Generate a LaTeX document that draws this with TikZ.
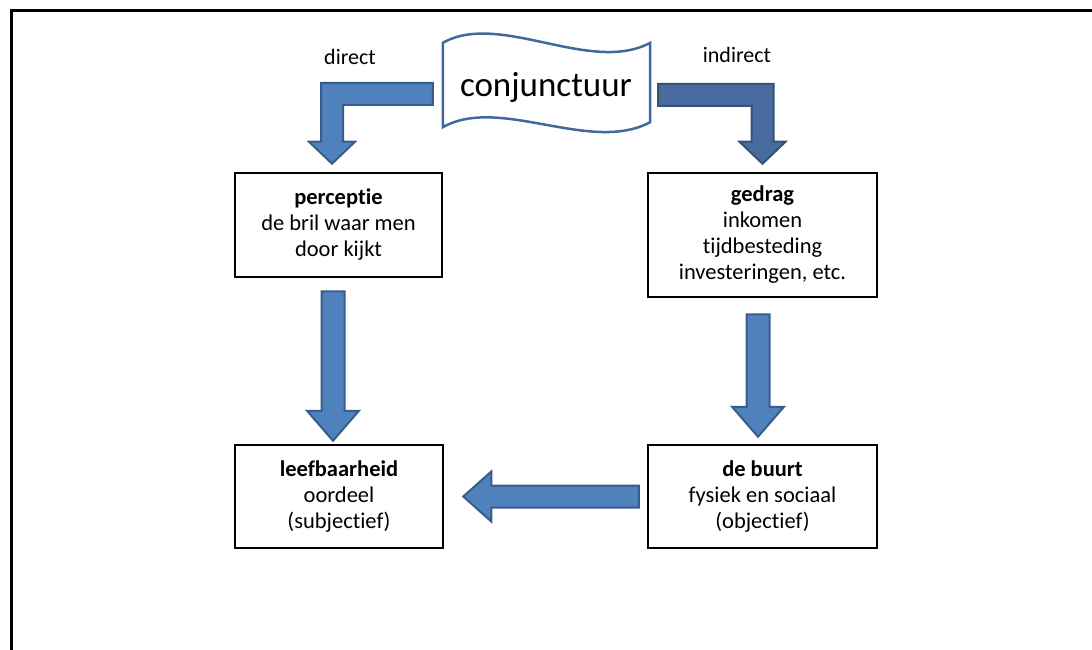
\documentclass[tikz,border=0pt]{standalone}
\usepackage{fontspec}
\setmainfont{Carlito}[Ligatures=NoCommon]
\usetikzlibrary{calc}

\definecolor{pijlblauw}{RGB}{79,129,189}
\definecolor{pijlrand}{RGB}{56,93,138}
\definecolor{pijldonker}{RGB}{72,108,157}
\definecolor{pijldonkerrand}{RGB}{52,82,122}
\definecolor{bannerrand}{RGB}{65,105,155}

% block arrow pointing down, from #2 to tip #3
\newcommand{\pijlomlaag}[3][]{%
  \filldraw[pijl,#1] ($(#2)+(-11.5,0)$) -- ($(#2)+(11.5,0)$) -- ($(#2 |- #3)+(11.5,-30)$)
    -- ($(#2 |- #3)+(26,-30)$) -- (#2 |- #3) -- ($(#2 |- #3)+(-26,-30)$)
    -- ($(#2 |- #3)+(-11.5,-30)$) -- cycle;}
% block arrow pointing left, from #2 to tip #3
\newcommand{\pijllinks}[3][]{%
  \filldraw[pijl,#1] ($(#2)+(0,-11)$) -- ($(#3 |- #2)+(28,-11)$) -- ($(#3 |- #2)+(28,-25)$)
    -- (#3 |- #2) -- ($(#3 |- #2)+(28,25)$) -- ($(#3 |- #2)+(28,11)$)
    -- ($(#2)+(0,11)$) -- cycle;}
% bent block arrow, bar from #2, down to tip #3, #4 = 1 (to the left) or -1 (to the right)
\newcommand{\bochtpijl}[4][]{%
  \filldraw[pijl,#1] ($(#2)+(0,-11)$) -- ($(#3 |- #2)+({-11*#4},-11)$) -- ($(#3)+({-11*#4},-22)$)
    -- ($(#3)+({-23*#4},-22)$) -- (#3) -- ($(#3)+({23*#4},-22)$) -- ($(#3)+({11*#4},-22)$)
    -- ($(#3 |- #2)+({11*#4},11)$) -- ($(#2)+(0,11)$) -- cycle;}

\begin{document}
\begin{tikzpicture}[x=1pt,y=-1pt,
  box/.style={draw, line width=2.5pt, align=center, inner sep=0pt,
              font=\fontsize{22.5}{26}\selectfont},
  lbl/.style={font=\fontsize{22}{26}\selectfont},
  pijl/.style={fill=pijlblauw, draw=pijlrand, line width=2pt},
  donker/.style={fill=pijldonker, draw=pijldonkerrand},
  banner/.style={draw=bannerrand, line width=2.5pt, fill=white}
]
\useasboundingbox (0,0) rectangle (1092,650);
\draw[line width=3pt] (11,652) -- (11,11) -- (1094,11);

% boxes
\node[box, minimum width=207pt, minimum height=104pt] (percep) at (338.5,225)
  {\textbf{perceptie}\\de bril waar men\\door kijkt};
\node[box, minimum width=229pt, minimum height=124pt] (gedrag) at (762.5,235)
  {\textbf{gedrag}\\inkomen\\tijdbesteding\\investeringen, etc.};
\node[box, minimum width=208pt, minimum height=103pt] (leef) at (339,496.5)
  {\textbf{leefbaarheid}\\oordeel\\(subjectief)};
\node[box, minimum width=229pt, minimum height=103pt] (buurt) at (762.5,496.5)
  {\textbf{de buurt}\\fysiek en sociaal\\(objectief)};

% banner
\node[minimum width=207pt, minimum height=84pt, inner sep=0pt] (conj) at (546.5,85) {};
\draw[banner] (conj.north west) .. controls +(57,-32) and +(-60,32) .. (conj.north east)
  -- ($(conj.south east)+(0,-5)$) .. controls +(-60,32) and +(57,-32) .. (conj.south west) -- cycle;
\node[font=\fontsize{35}{40}\selectfont] (conjtxt) at (546,87) {conjunctuur};

\node[lbl] (direct) at (350,57) {direct};
\node[lbl] (indirect) at (737,55) {indirect};

% arrows
\coordinate (d1) at ($(conj.west)+(-10,9)$);
\coordinate (d2) at ($(percep.north)+(-6.5,-8)$);
\coordinate (i1) at ($(conj.east)+(8,10)$);
\coordinate (i2) at ($(gedrag.north)+(0,-8)$);
\coordinate (p1) at ($(percep.south)+(-5.5,13)$);
\coordinate (p2) at ($(leef.north)+(-6,-3)$);
\coordinate (g1) at ($(gedrag.south)+(-4.5,16)$);
\coordinate (g2) at ($(buurt.north)+(-4.5,-7)$);
\coordinate (b1) at ($(buurt.west)+(-8,0)$);
\coordinate (b2) at ($(leef.east)+(19,0)$);
\bochtpijl{d1}{d2}{1}
\bochtpijl[donker]{i1}{i2}{-1}
\pijlomlaag{p1}{p2}
\pijlomlaag{g1}{g2}
\pijllinks{b1}{b2}
\end{tikzpicture}
\end{document}
